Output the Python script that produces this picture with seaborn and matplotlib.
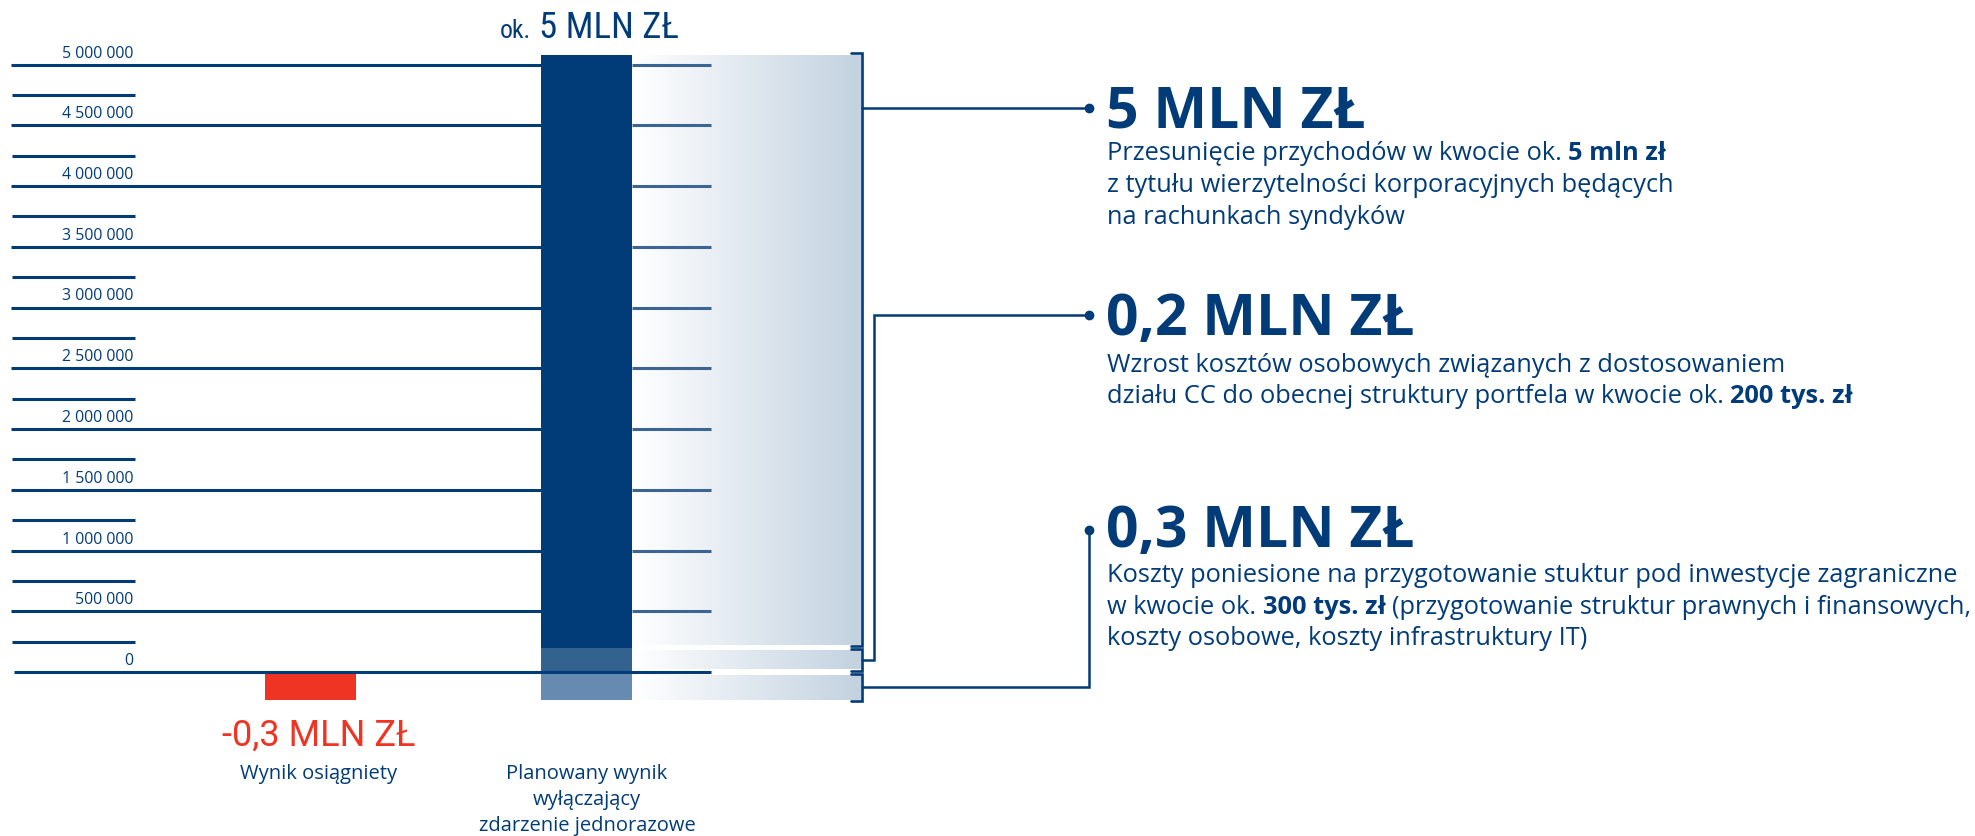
import numpy as np
import pandas as pd
import matplotlib
matplotlib.use("Agg")
import matplotlib.pyplot as plt
import matplotlib.transforms as mtransforms
from matplotlib import font_manager as fm
from matplotlib.colors import LinearSegmentedColormap
import seaborn as sns

# ---------------- data ----------------
categories = ["Wynik osiągniety", "Planowany wynik\nwyłączający\nzdarzenie jednorazowe"]
achieved_values = [-230000]
planned_segment_names = ["Koszty struktur zagranicznych", "Wzrost kosztów osobowych", "Przesunięcie przychodów"]
planned_segment_values = [-230000, 200000, 4880000]
tick_values = [0, 500000, 1000000, 1500000, 2000000, 2500000, 3000000, 3500000, 4000000, 4500000, 5000000]
tick_labels = ["0", "500 000", "1 000 000", "1 500 000", "2 000 000", "2 500 000",
               "3 000 000", "3 500 000", "4 000 000", "4 500 000", "5 000 000"]
achieved_label = "-0,3 MLN ZŁ"
planned_label_prefix = "ok."
planned_label = "5 MLN ZŁ"
callout_titles = ["5 MLN ZŁ", "0,2 MLN ZŁ", "0,3 MLN ZŁ"]
callout_lines = [
    [[("Przesunięcie przychodów w kwocie ok.", False), ("5 mln zł", True)],
     [("z tytułu wierzytelności korporacyjnych będących", False)],
     [("na rachunkach syndyków", False)]],
    [[("Wzrost kosztów osobowych związanych z dostosowaniem", False)],
     [("działu CC do obecnej struktury portfela w kwocie ok.", False), ("200 tys. zł", True)]],
    [[("Koszty poniesione na przygotowanie stuktur pod inwestycje zagraniczne", False)],
     [("w kwocie ok.", False), ("300 tys. zł", True), ("(przygotowanie struktur prawnych i finansowych,", False)],
     [("koszty osobowe, koszty infrastruktury IT)", False)]],
]

# ---------------- style ----------------
NAVY = "#023c78"
MID = "#33628f"
LIGHT = "#678bb0"
RED = "#ef3424"
STUB = "#3d6594"
GRAD_END = "#c3d2e0"

_avail = {f.name for f in fm.fontManager.ttflist}
def pick(*names):
    for n in names:
        if n in _avail:
            return n
    return "DejaVu Sans"

BODY_FONT = pick("Open Sans", "Noto Sans", "DejaVu Sans")
NARROW_FONT = pick("Roboto Condensed", "Liberation Sans Narrow", "Roboto", "DejaVu Sans")
DIN_FONT = pick("Roboto", "DejaVu Sans")

sns.set_theme(style="white")
plt.rcParams["font.family"] = [BODY_FONT, "DejaVu Sans"]

W, H = 1975, 836
fig = plt.figure(figsize=(W / 100, H / 100), dpi=100)
ax = fig.add_axes([0, 0, 1, 1])

# pixel layout helpers (layout only, not data)
CAT0_PX = 310.5          # centre of first category
PX_PER_CAT = 276.0
ZERO_PX = 672.0
PX_PER_VAL = 121.5 / 1e6
BAR_W = 91 / PX_PER_CAT

def X(px):
    return (px - CAT0_PX) / PX_PER_CAT

def Y(py):
    return (ZERO_PX - py) / PX_PER_VAL

GAP = 3 / PX_PER_VAL

# ---------------- gradient bands ----------------
grad_cmap = LinearSegmentedColormap.from_list("g", ["#ffffff", GRAD_END])
grad = np.linspace(0, 1, 256)[None, :]
bx0 = 1 + BAR_W / 2
bx1 = X(860.5)
neg, pers, rev = planned_segment_values
bands = [
    (pers + GAP, pers + rev),
    (0 + GAP, pers - GAP),
    (neg, 0 - GAP),
]
for lo, hi in bands:
    ax.imshow(grad, extent=[bx0, bx1, lo, hi], origin="lower", cmap=grad_cmap,
              aspect="auto", interpolation="bilinear", zorder=1)

# ---------------- grid lines ----------------
bar_left = 1 - BAR_W / 2
for v in tick_values[1:]:
    ax.plot([X(11), bar_left], [v, v], color=NAVY, lw=2.2, solid_capstyle="butt", zorder=2)
    ax.plot([bx0, X(711)], [v, v], color=STUB, lw=2.2, solid_capstyle="butt", zorder=2)
for a, b in zip(tick_values[:-1], tick_values[1:]):
    m = (a + b) / 2
    ax.plot([X(12), X(135)], [m, m], color=NAVY, lw=2.2, solid_capstyle="butt", zorder=2)

label_tf = mtransforms.offset_copy(ax.transData, fig=fig, x=0, y=7, units="dots")
for v, lab in zip(tick_values, tick_labels):
    ax.text(X(133), v, lab, transform=label_tf, ha="right", va="baseline",
            fontsize=11.4, color=NAVY, family=BODY_FONT)

# ---------------- bars (seaborn) ----------------
common = dict(order=categories, width=BAR_W, saturation=1, linewidth=0,
              errorbar=None, ax=ax, zorder=3)
sns.barplot(x=[categories[0]], y=achieved_values, color=RED, **common)
sns.barplot(x=[categories[1]], y=[pers + rev], color=NAVY, **common)
sns.barplot(x=[categories[1]], y=[pers], color=MID, **common)
sns.barplot(x=[categories[1]], y=[neg], color=LIGHT, **common)

# zero line on top of the bars
ax.plot([X(14), X(711)], [0, 0], color=NAVY, lw=2.2, solid_capstyle="butt", zorder=4)

# ---------------- brackets & connectors ----------------
xb = X(862)
xt = X(851)
ext = 1.5 / PX_PER_VAL
for lo, hi in bands:
    ax.plot([xt, xb, xb, xt], [hi + ext, hi + ext, lo - ext, lo - ext],
            color=NAVY, lw=1.9, solid_joinstyle="miter", zorder=4)

x_dot = X(1089)
# connector 1
y1 = Y(108)
ax.plot([xb, x_dot], [y1, y1], color=NAVY, lw=1.8, zorder=4)
ax.plot([x_dot], [y1], "o", ms=6, color=NAVY, zorder=5)
# connector 2
y_mid = (bands[1][0] + bands[1][1]) / 2
y2 = Y(315)
ax.plot([xb, X(874), X(874), x_dot], [y_mid, y_mid, y2, y2], color=NAVY, lw=1.8,
        solid_joinstyle="miter", zorder=4)
ax.plot([x_dot], [y2], "o", ms=6, color=NAVY, zorder=5)
# connector 3
y_bot = (bands[2][0] + bands[2][1]) / 2
y3 = Y(530)
ax.plot([xb, x_dot, x_dot], [y_bot, y_bot, y3], color=NAVY, lw=1.8,
        solid_joinstyle="miter", zorder=4)
ax.plot([x_dot], [y3], "o", ms=6, color=NAVY, zorder=5)

# ---------------- axes limits ----------------
ax.set_xlim(X(0), X(W))
ax.set_ylim(Y(H), Y(0))
ax.set_axis_off()

# ---------------- texts ----------------
renderer = fig.canvas.get_renderer()

def ftext(px, py, s, **kw):
    return fig.text(px / W, 1 - py / H, s, **kw)

def rich_line(px, py, parts, fs):
    x = px
    for i, (s, bold) in enumerate(parts):
        if i > 0:
            x += 0.26 * fs * 100 / 72
        t = ftext(x, py, s, fontsize=fs, color=NAVY, family=BODY_FONT,
                  fontweight="bold" if bold else "normal", ha="left", va="baseline")
        bb = t.get_window_extent(renderer)
        x = bb.x1

# top label over planned bar
t_ok = ftext(500, 38, planned_label_prefix, fontsize=18.5, color=NAVY, family=NARROW_FONT,
             ha="left", va="baseline")
bb = t_ok.get_window_extent(renderer)
ftext(bb.x1 + 8, 38, planned_label, fontsize=26.5, color=NAVY, family=NARROW_FONT,
      ha="left", va="baseline")

# labels under bars
ftext(319, 746, achieved_label, fontsize=26, color=RED, family=DIN_FONT,
      ha="center", va="baseline")
ftext(319, 779, categories[0], fontsize=14.5, color=NAVY, family=BODY_FONT,
      ha="center", va="baseline")
for i, line in enumerate(categories[1].split("\n")):
    ftext(587, 779 + 26 * i, line, fontsize=14.5, color=NAVY, family=BODY_FONT,
          ha="center", va="baseline")

# callouts
title_base = [127, 335, 547]
body_base = [[160, 192, 224], [372, 403], [582, 614, 645]]
for title, tb, lines, bbs in zip(callout_titles, title_base, callout_lines, body_base):
    ftext(1106, tb, title, fontsize=41, fontweight="bold", color=NAVY, family=BODY_FONT,
          ha="left", va="baseline")
    for parts, yb in zip(lines, bbs):
        rich_line(1107, yb, parts, 18.3)

fig.savefig("out.png", dpi=100)
